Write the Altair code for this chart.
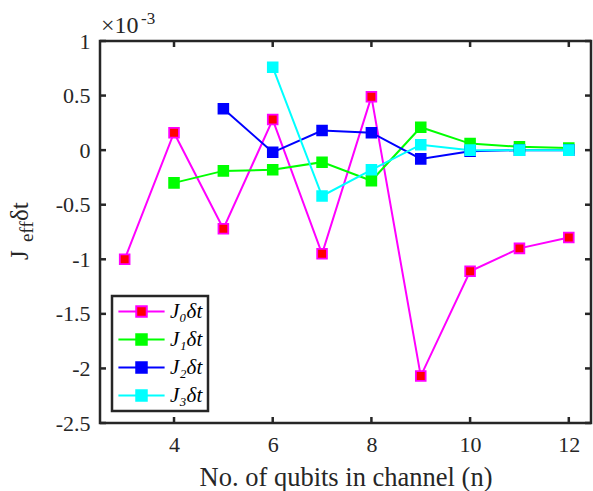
import altair as alt
import pandas as pd

# ---- data (values in units of 1e-3) ----
n0 = [3, 4, 5, 6, 7, 8, 9, 10, 11, 12]
j0 = [-1.00, 0.16, -0.72, 0.28, -0.95, 0.49, -2.07, -1.11, -0.90, -0.80]
n1 = [4, 5, 6, 7, 8, 9, 10, 11, 12]
j1 = [-0.30, -0.19, -0.18, -0.11, -0.28, 0.21, 0.06, 0.03, 0.02]
n2 = [5, 6, 7, 8, 9, 10, 11, 12]
j2 = [0.38, -0.02, 0.18, 0.16, -0.08, -0.01, 0.00, 0.00]
n3 = [6, 7, 8, 9, 10, 11, 12]
j3 = [0.76, -0.42, -0.18, 0.05, 0.00, 0.00, 0.00]

series_names = ["J₀δt", "J₁δt", "J₂δt", "J₃δt"]
line_colors = ["#FF00FF", "#00FF00", "#0000FF", "#00FFFF"]
fill_colors = ["#FF0000", "#00FF00", "#0000FF", "#00FFFF"]

x_ticks = [4, 6, 8, 10, 12]
y_ticks = [-2.5, -2, -1.5, -1, -0.5, 0, 0.5, 1]

rows = []
for name, ns, vs in zip(series_names, [n0, n1, n2, n3], [j0, j1, j2, j3]):
    for n, v in zip(ns, vs):
        rows.append({"n": n, "J": v, "series": name})
df = pd.DataFrame(rows)

W, H = 491, 382
FONT = "'Liberation Serif', 'Times New Roman', 'DejaVu Serif', serif"
AX = "#262626"

xscale = alt.Scale(domain=[2.5, 12.45], nice=False, zero=False)
yscale = alt.Scale(domain=[-2.5, 1], nice=False, zero=False)
stroke_scale = alt.Scale(domain=series_names, range=line_colors)
fill_scale = alt.Scale(domain=series_names, range=fill_colors)

x_axis = alt.Axis(values=x_ticks, ticks=False, domain=False, grid=False,
                  labelFont=FONT, labelFontSize=22, labelColor=AX, labelPadding=11,
                  title="No. of qubits in channel (n)", titleFont=FONT,
                  titleFontSize=26.5, titleFontWeight="normal", titleColor=AX,
                  titlePadding=9)
y_axis = alt.Axis(values=y_ticks, ticks=False, domain=False, grid=False,
                  labelFont=FONT, labelFontSize=22, labelColor=AX, labelPadding=10,
                  labelExpr="replace(format(datum.value, '~g'), '−', '-')",
                  title=None)

X = alt.X("n:Q", scale=xscale, axis=x_axis)
Y = alt.Y("J:Q", scale=yscale, axis=y_axis)

base = alt.Chart(df)
lines = base.mark_line(strokeWidth=2).encode(
    x=X, y=Y,
    stroke=alt.Stroke("series:N", scale=stroke_scale, title=None),
    detail="series:N",
)
points = base.mark_point(shape="square", filled=True, size=95, strokeWidth=1.8,
                         opacity=1).encode(
    x=X, y=Y,
    stroke=alt.Stroke("series:N", scale=stroke_scale, title=None),
    fill=alt.Fill("series:N", scale=fill_scale, title=None),
)

# inward ticks on all four sides
xt = alt.Chart(pd.DataFrame({"n": x_ticks}))
yt = alt.Chart(pd.DataFrame({"J": y_ticks}))
tick_style = dict(color=AX, strokeWidth=2.5)
tb = xt.mark_rule(**tick_style).encode(x=X, y=alt.value(H), y2=alt.value(H - 6))
tt = xt.mark_rule(**tick_style).encode(x=X, y=alt.value(0), y2=alt.value(6))
tl = yt.mark_rule(**tick_style).encode(y=Y, x=alt.value(0), x2=alt.value(6))
tr = yt.mark_rule(**tick_style).encode(y=Y, x=alt.value(W), x2=alt.value(W - 6))

one = pd.DataFrame({"a": [0]})
def label(txt, x, y, size, angle=0):
    kw = dict(text=txt, font=FONT, fontSize=size, color=AX, align="left",
              baseline="alphabetic")
    if angle:
        kw["angle"] = angle
    return alt.Chart(one).mark_text(**kw).encode(x=alt.value(x), y=alt.value(y))

ytitle = [label("J", -72, 219, 25, 270),
          label("eff", -67, 201, 19, 270),
          label("δt", -72, 180, 25, 270)]
expo = [label("×10", 1, -8, 24), label("-3", 41, -17, 17)]

chart = alt.layer(lines, points, tb, tt, tl, tr, *ytitle, *expo).properties(
    width=W, height=H,
    autosize=alt.AutoSizeParams(type="none"),
    padding={"left": 100, "top": 41, "right": 2, "bottom": 68},
).configure_view(
    stroke=AX, strokeWidth=2.5
).configure_legend(
    orient="bottom-left", offset=12, padding=5,
    fillColor="white", strokeColor=AX, strokeWidth=2.5,
    symbolType="M-3.3,0H-0.75M0.75,0H3.3M-0.75,-0.75H0.75V0.75H-0.75Z",
    symbolSize=196, symbolStrokeWidth=2, symbolOffset=14,
    labelFont=FONT, labelFontSize=21, labelFontStyle="italic", labelColor="black",
    labelOffset=18, rowPadding=6,
)

chart.save("out.html", embed_options={"renderer": "svg", "actions": False})
